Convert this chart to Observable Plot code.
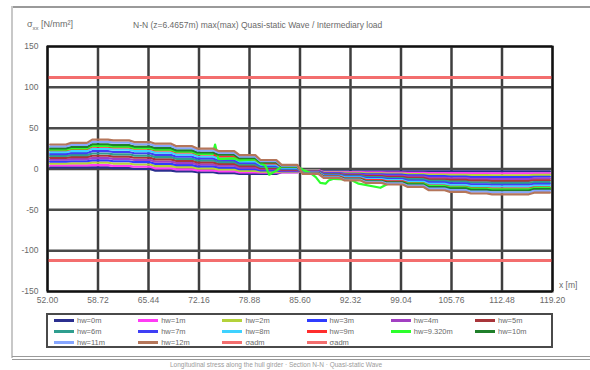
<!DOCTYPE html>
<html>
<head>
<meta charset="utf-8">
<script src="https://cdn.jsdelivr.net/npm/d3@7"></script>
<script src="https://cdn.jsdelivr.net/npm/@observablehq/plot@0.6"></script>
<style>
  html, body { margin: 0; padding: 0; background: #fff; }
  #fig { position: relative; width: 590px; height: 370px; overflow: hidden;
         font-family: "Liberation Sans", Arial, sans-serif; color: #6a6a6a; }
  .abs { position: absolute; }
  #ylab { left: 27px; top: 19px; font-size: 9px; white-space: nowrap; }
  #ylab sub { font-size: 6px; }
  #title { left: 133px; top: 20px; font-size: 8.5px; white-space: nowrap; }
  #chart { left: 0; top: 30px; }
  #xlab { left: 559px; top: 280px; font-size: 8.5px; }
  #legendBox { left: 46px; top: 313px; width: 503px; height: 31px; border: 2.5px solid #4a4a4a; }
  .sw { position: absolute; width: 20px; height: 3px; }
  .lt { position: absolute; font-size: 7.5px; white-space: nowrap; line-height: 9px; }
  #foot { left: 170px; top: 361px; font-size: 6.5px; line-height: 8px; color: #9a9a9a; white-space: nowrap; }
</style>
</head>
<body>
<div id="fig">
  <div class="abs" style="left:12px;top:6px;width:578px;height:2px;background:#9a9a9a"></div>
  <div class="abs" style="left:11px;top:6px;width:2px;height:352px;background:#c8c8c8"></div>
  <div class="abs" style="left:12px;top:356px;width:578px;height:1px;background:#9a9a9a"></div>
  <div class="abs" style="left:12px;top:359px;width:578px;height:1px;background:#9a9a9a"></div>
  <div id="ylab" class="abs">σ<sub>xx</sub> [N/mm²]</div>
  <div id="title" class="abs">N-N (z=6.4657m) max(max) Quasi-static Wave / Intermediary load</div>
  <div id="chart" class="abs"></div>
  <div id="xlab" class="abs">x [m]</div>
  <div id="legendBox" class="abs"></div>
  <div id="foot" class="abs">Longitudinal stress along the hull girder · Section N-N · Quasi-static Wave</div>
</div>
<script>
// Frame positions along the hull (m): stresses are constant between consecutive frames
const frames = [52.0, 54.8, 57.6, 60.4, 63.2, 66.0, 68.8, 71.6, 74.4, 77.2, 80.0, 82.8, 85.6,
                88.4, 91.2, 94.0, 96.8, 99.6, 102.4, 105.2, 108.0, 110.8, 113.6, 116.4, 119.2];

const xTicks = [52.00, 58.72, 65.44, 72.16, 78.88, 85.60, 92.32, 99.04, 105.76, 112.48, 119.20];
const yTicks = [-150, -100, -50, 0, 50, 100, 150];

// Admissible stress limits (N/mm²)
const limits = [112, -112];

// Water heights of the load cases
const seriesNames = ["hw=0m", "hw=1m", "hw=2m", "hw=3m", "hw=4m", "hw=5m", "hw=6m",
                     "hw=7m", "hw=8m", "hw=9m", "hw=9.320m", "hw=10m", "hw=11m", "hw=12m"];

// Stress per frame bay (N/mm²), one value per bay
const hw0  = [2, 2, 2, 1, 0, -2, -3, -4, -5, -6, -6, -4, -2, -3, -3, -3, -3, -3, -3, -3, -3, -3, -3, -3];
const hw1  = [4.3, 4.5, 4.8, 3.8, 2.8, 0.8, -0.4, -1.6, -2.8, -4.1, -4.6, -4.2, -1.4, -3.7, -3.9, -4.2, -4.3, -4.6, -4.9, -5.1, -5.3, -5.3, -5.3, -5.2];
const hw2  = [6.7, 7, 7.7, 6.7, 5.5, 3.5, 2.2, 0.8, -0.5, -2.2, -3.2, -3.3, -1.8, -4.3, -4.8, -5.3, -5.7, -6.2, -6.8, -7.2, -7.5, -7.7, -7.7, -7.3];
const hw3  = [9, 9.5, 10.5, 9.5, 8.3, 6.3, 4.8, 3.3, 1.8, -0.3, -1.8, -2.5, -2.3, -5, -5.8, -6.5, -7, -7.8, -8.8, -9.3, -9.8, -10, -10, -9.5];
const hw4  = [11.3, 12, 13.3, 12.3, 11, 9, 7.3, 5.7, 4, 1.7, -0.3, -1.7, -2.7, -5.7, -6.7, -7.7, -8.3, -9.3, -10.7, -11.3, -12, -12.3, -12.3, -11.7];
const hw5  = [13.7, 14.5, 16.2, 15.2, 13.8, 11.8, 9.9, 8.1, 6.3, 3.6, 1.1, -0.8, -3.1, -6.3, -7.6, -8.8, -9.7, -10.9, -12.6, -13.4, -14.3, -14.7, -14.7, -13.8];
const hw6  = [16, 17, 19, 18, 16.5, 14.5, 12.5, 10.5, 8.5, 5.5, 2.5, 0, -3.5, -7, -8.5, -10, -11, -12.5, -14.5, -15.5, -16.5, -17, -17, -16];
const hw7  = [18.3, 19.5, 21.8, 20.8, 19.3, 17.3, 15.1, 12.9, 10.8, 7.4, 3.9, 0.8, -3.9, -7.7, -9.4, -11.2, -12.3, -14.1, -16.4, -17.6, -18.8, -19.3, -19.3, -18.2];
const hw8  = [20.7, 22, 24.7, 23.7, 22, 20, 17.7, 15.3, 13, 9.3, 5.3, 1.7, -4.3, -8.3, -10.3, -12.3, -13.7, -15.7, -18.3, -19.7, -21, -21.7, -21.7, -20.3];
const hw9  = [23, 24.5, 27.5, 26.5, 24.8, 22.8, 20.3, 17.8, 15.3, 11.3, 6.8, 2.5, -4.8, -9, -11.3, -13.5, -15, -17.3, -20.3, -21.8, -23.3, -24, -24, -22.5];
const hw10 = [25.3, 27, 30.3, 29.3, 27.5, 25.5, 22.8, 20.2, 17.5, 13.2, 8.2, 3.3, -5.2, -9.7, -12.2, -14.7, -16.3, -18.8, -22.2, -23.8, -25.5, -26.3, -26.3, -24.7];
const hw11 = [27.7, 29.5, 33.2, 32.2, 30.3, 28.3, 25.4, 22.6, 19.8, 15.1, 9.6, 4.2, -5.6, -10.3, -13.1, -15.8, -17.7, -20.4, -24.1, -25.9, -27.8, -28.7, -28.7, -26.8];
const hw12 = [30, 32, 36, 35, 33, 31, 28, 25, 22, 17, 11, 5, -6, -11, -14, -17, -19, -22, -26, -28, -30, -31, -31, -29];

// The hw=9.320m case is sampled at irregular stations: [x (m), stress (N/mm²)]
const hw9_32 = [
  [52.35, 23.8], [54.45, 23.8], [55.15, 25.3], [57.25, 25.3], [57.95, 28.4], [60.05, 28.4],
  [60.75, 27.4], [62.85, 27.4], [63.55, 25.6], [65.65, 25.6], [66.35, 23.6], [68.45, 23.6],
  [69.15, 21.1], [71.25, 21.1], [71.95, 18.5], [74.0, 18.5], [74.3, 30], [74.75, 12],
  [76.85, 13], [77.55, 10.5], [79.65, 11.9], [80.35, 7], [81.0, 4], [81.5, -7],
  [82.45, -2], [83.15, 2.8], [85.25, 2.8], [86.2, -2], [87.0, -5], [87.7, -10],
  [88.3, -17], [89.0, -18], [89.4, -14], [90.1, -12], [92.3, -13], [93.4, -18],
  [96.3, -23], [97.3, -18], [99.0, -18], [99.4, -17], [99.95, -17.8], [102.05, -17.8],
  [102.75, -21], [104.85, -21], [105.55, -22.4], [107.65, -22.4], [108.35, -24.1], [110.45, -24.1],
  [111.15, -24.8], [113.25, -24.8], [113.95, -24.8], [116.05, -24.8], [116.75, -23.2], [118.85, -23.2]
];

const bayValues = {
  "hw=0m": hw0, "hw=1m": hw1, "hw=2m": hw2, "hw=3m": hw3, "hw=4m": hw4, "hw=5m": hw5,
  "hw=6m": hw6, "hw=7m": hw7, "hw=8m": hw8, "hw=9m": hw9, "hw=10m": hw10,
  "hw=11m": hw11, "hw=12m": hw12
};

const seriesColors = ["#2b2f8f", "#ff3cf5", "#b4d23a", "#2f3cff", "#a23fc2", "#a8353a", "#2f9e8f",
                      "#3f3ff5", "#3fd2ff", "#ff2d2d", "#2cff2c", "#1f7f2a", "#86a6ff", "#b5765a"];
const limitColor = "#f36e6e";

// Each bay is drawn as a plateau, with a short transition at the frames
const inset = 0.35;
const rows = [];
seriesNames.forEach(name => {
  if (name === "hw=9.320m") {
    hw9_32.forEach(([x, y]) => rows.push({name, x, y}));
  } else {
    bayValues[name].forEach((v, i) => {
      rows.push({name, x: frames[i] + inset, y: v});
      rows.push({name, x: frames[i + 1] - inset, y: v});
    });
  }
});

const chart = Plot.plot({
  width: 590,
  height: 280,
  marginTop: 16,
  marginBottom: 19,
  marginLeft: 47,
  marginRight: 38,
  style: {fontFamily: "Liberation Sans, Arial, sans-serif", fontSize: "8.5px", color: "#6a6a6a", background: "transparent", overflow: "visible"},
  x: {domain: [52, 119.2]},
  y: {domain: [-150, 150]},
  color: {domain: seriesNames, range: seriesColors},
  marks: [
    Plot.ruleX(xTicks, {stroke: "#3e3e3e", strokeWidth: 2.5}),
    Plot.ruleY(yTicks, {stroke: "#4a4a4a", strokeWidth: 2.5}),
    Plot.ruleY(limits, {stroke: limitColor, strokeWidth: 3}),
    Plot.line(rows, {x: "x", y: "y", z: "name", stroke: "name", strokeWidth: 2.2}),
    Plot.frame({stroke: "#111", strokeWidth: 2}),
    Plot.axisX({ticks: xTicks, tickSize: 0, tickPadding: 5, tickFormat: d => d.toFixed(2), label: null}),
    Plot.axisY({ticks: yTicks, tickSize: 0, tickPadding: 9, tickFormat: d => String(d), label: null})
  ]
});
document.getElementById("chart").appendChild(chart);

// Legend: six columns, load cases followed by the admissible limits
const legendNames = [...seriesNames, "σadm", "σadm"];
const legendColors = [...seriesColors, limitColor, limitColor];
const fig = document.getElementById("fig");
legendNames.forEach((name, i) => {
  const col = i % 6, row = Math.floor(i / 6);
  const left = 54 + col * 84.2;
  const cy = 320 + row * 11.2;
  const sw = document.createElement("div");
  sw.className = "sw";
  sw.style.left = left + "px";
  sw.style.top = (cy - 1.5) + "px";
  sw.style.background = legendColors[i];
  fig.appendChild(sw);
  const t = document.createElement("div");
  t.className = "lt";
  t.style.left = (left + 23) + "px";
  t.style.top = (cy - 4.5) + "px";
  t.textContent = name;
  fig.appendChild(t);
});
</script>
</body>
</html>
